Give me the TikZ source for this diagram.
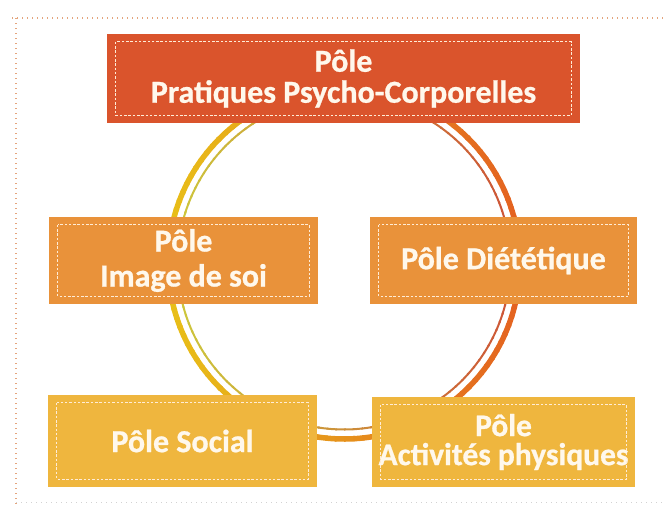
\documentclass[tikz,border=0pt]{standalone}
\usepackage{fontspec}
\setmainfont{Carlito}[BoldFeatures={FakeBold=0.8}]
\definecolor{topfill}{RGB}{218,84,44}
\definecolor{midfill}{RGB}{233,146,58}
\definecolor{botfill}{RGB}{239,182,62}
\definecolor{txt}{RGB}{255,248,236}
\definecolor{framedash}{RGB}{255,236,214}
\definecolor{ringY}{RGB}{232,192,24}
\definecolor{ringR}{RGB}{228,98,32}
\definecolor{thinY}{RGB}{205,200,60}
\definecolor{thinR}{RGB}{205,85,55}
\definecolor{pageborder}{RGB}{228,165,125}
\begin{document}
\begin{tikzpicture}[x=1pt,y=-1pt,
  pole/.style={fill=#1, inner sep=0pt, text=txt, align=center,
    font=\bfseries\fontsize{32}{35}\selectfont},
  innerdash/.style={draw=framedash, line width=1pt, dash pattern=on 2.5pt off 1.8pt},
  pagedot/.style={draw=pageborder, line width=1.4pt, dash pattern=on 1.4pt off 3.6pt},
  thickring/.style={line width=5.5pt},
  thinring/.style={line width=2pt}]
\useasboundingbox (0,0) rectangle (663,504);
% page border
\draw[pagedot] (12,18) -- (663,18);
\draw[pagedot] (16,18) -- (16,504);
\draw[pagedot, draw=gray!35] (16,502.5) -- (663,502.5);
% ring
\coordinate (c) at (344,263);
\foreach \a in {0,3,...,357}{
  \pgfmathtruncatemacro\t{50-50*cos(\a)}
  \draw[thickring, ringY!\t!ringR] (c) ++(\a:176pt) arc[start angle=\a, end angle=\a+3.6, radius=176pt];
  \draw[thinring, thinY!\t!thinR] (c) ++(\a:166.5pt) arc[start angle=\a, end angle=\a+3.6, radius=166.5pt];
}
% boxes
\node[pole=topfill, minimum width=473pt, minimum height=89pt,
  font=\bfseries\fontsize{32}{31}\selectfont] (pp) at (343.5,78.5) {Pôle\\Pratiques Psycho-Corporelles};
\node[pole=midfill, minimum width=269pt, minimum height=87pt] (img) at (183.5,260.5) {Pôle\\Image de soi};
\node[pole=midfill, minimum width=267pt, minimum height=87pt] (diet) at (503.5,260.5) {Pôle Diététique};
\node[pole=botfill, minimum width=269pt, minimum height=92pt] (soc) at (182.5,441) {Pôle Social};
\node[pole=botfill, minimum width=263pt, minimum height=90pt,
  font=\bfseries\fontsize{31.5}{29}\selectfont] (act) at (503.5,442) {Pôle\\Activités physiques};
\foreach \n in {pp,img,diet,soc,act}
  \draw[innerdash] ([xshift=9pt,yshift=-8pt]\n.north west) rectangle ([xshift=-9pt,yshift=8pt]\n.south east);
\end{tikzpicture}
\end{document}
